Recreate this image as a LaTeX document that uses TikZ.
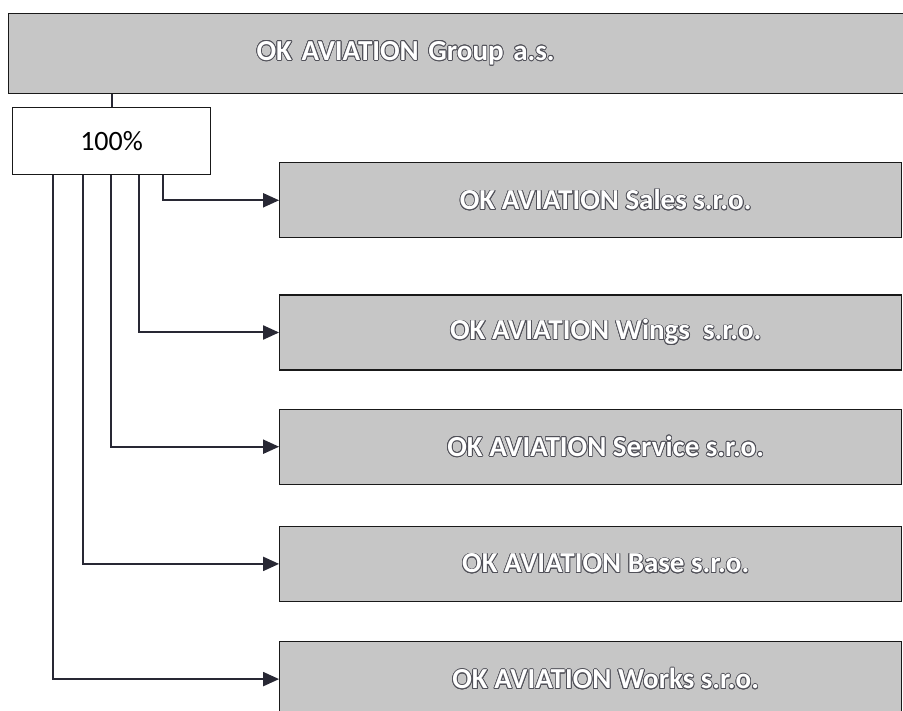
\documentclass[tikz,border=0pt]{standalone}
\usepackage{fontspec}
\setmainfont{Carlito}
\usepackage[copies]{contour}
\contourlength{0.8pt}
\usepackage{xcolor}
\usetikzlibrary{positioning,arrows.meta}

\definecolor{boxgray}{RGB}{198,198,198}
\definecolor{edgegray}{RGB}{80,80,88}
\definecolor{inkdark}{RGB}{40,40,52}
\newcommand{\firmtext}[1]{\contour{edgegray}{\textcolor{white}{\bfseries #1}}}
\newcommand{\subtext}[1]{\hspace*{30pt}\firmtext{#1}}

\tikzset{
  firmbox/.style={draw=black!90, line width=1.2pt, fill=boxgray, rectangle,
    minimum width=622pt, minimum height=75pt, inner sep=0pt,
    font=\fontsize{29}{33}\selectfont},
  pctbox/.style={draw=black!90, line width=1.1pt, rectangle, fill=white,
    minimum width=198pt, minimum height=67pt, inner sep=0pt,
    font=\fontsize{28}{32}\selectfont},
  link/.style={line width=2pt, draw=inkdark},
  owns/.style={link, -{Triangle[length=16pt,width=14pt]}}
}

\begin{document}
\begin{tikzpicture}[x=1pt, y=-1pt]
\useasboundingbox[fill=white] (0,0) rectangle (903,711);

\node[firmbox, anchor=north west, minimum width=900pt, minimum height=80pt,
  text width=404pt, inner xsep=245pt, align=left] (group) at (8,13)
  {\firmtext{OK AVIATION Group a.s.}};
\node[pctbox, below=13pt of group.south west, anchor=north west, xshift=4pt] (pct) {100\%};

\node[firmbox, below right=55pt and 68pt of pct.north east, anchor=north west] (sales) {\subtext{OK AVIATION Sales s.r.o.}};
\node[firmbox, below=56pt of sales] (wings) {\subtext{OK AVIATION Wings\ \ s.r.o.}};
\node[firmbox, below=38pt of wings] (service) {\subtext{OK AVIATION Service s.r.o.}};
\node[firmbox, below=41pt of service] (base) {\subtext{OK AVIATION Base s.r.o.}};
\node[firmbox, below=39pt of base] (works) {\subtext{OK AVIATION Works s.r.o.}};

\draw[link] (pct.north) -- (pct.north |- group.south);

\draw[owns] ([xshift=151pt]pct.south west) |- (sales.west);
\draw[owns] ([xshift=127pt]pct.south west) |- (wings.west);
\draw[owns] ([xshift=99pt]pct.south west) |- (service.west);
\draw[owns] ([xshift=71pt]pct.south west) |- (base.west);
\draw[owns] ([xshift=41pt]pct.south west) |- (works.west);
\end{tikzpicture}
\end{document}
